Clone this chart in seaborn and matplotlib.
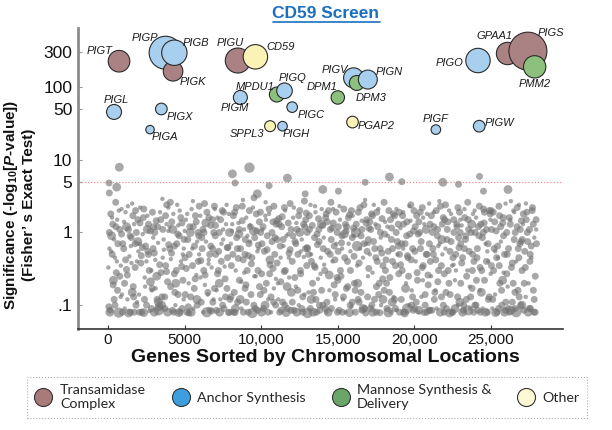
import matplotlib
matplotlib.use('Agg')
import matplotlib.pyplot as plt
from matplotlib.lines import Line2D
import seaborn as sns
import pandas as pd

# screen hits
genes = ['PIGP', 'PIGK', 'PIGB', 'PIGT', 'PIGU', 'CD59', 'PIGL', 'PIGX', 'PIGA',
         'PIGM', 'MPDU1', 'PIGQ', 'PIGC', 'SPPL3', 'PIGH', 'DPM1', 'PIGV', 'DPM3',
         'PIGN', 'PGAP2', 'PIGF', 'PIGW', 'PIGO', 'GPAA1', 'PIGS', 'PMM2']
positions = [3760, 4245, 4330, 718, 8470, 9620, 392, 3480, 2743,
             8640, 11020, 11520, 12020, 10580, 11390, 15000, 16030, 16240,
             16960, 15960, 21400, 24230, 24150, 26080, 27410, 27850]
significance = [297, 165, 297, 227, 232, 261, 45.5, 50, 26,
                72, 79, 89, 53, 29, 29, 72, 134, 114,
                127, 33, 26, 29, 232, 290, 312, 190]
insertions = [272, 96, 161, 117, 156, 149, 56, 34, 18,
              49, 56, 61, 28, 30, 23, 45, 100, 56,
              90, 34, 23, 34, 149, 125, 361, 125]
groups = ['Anchor', 'Transamidase', 'Anchor', 'Transamidase', 'Transamidase', 'Other',
          'Anchor', 'Anchor', 'Anchor', 'Anchor', 'Mannose', 'Anchor', 'Anchor', 'Other',
          'Anchor', 'Mannose', 'Anchor', 'Mannose', 'Anchor', 'Other', 'Anchor', 'Anchor',
          'Anchor', 'Transamidase', 'Transamidase', 'Mannose']

# genes just below / above the cutoff
top_bg = [(738, 7.9, 3), (8120, 6.4, 3), (9230, 7.8, 4), (65, 4.8, 2), (568, 4.2, 3),
          (85, 3.5, 2), (8295, 4.8, 2), (11710, 5.6, 3), (10516, 4.4, 2), (18370, 5.8, 3),
          (16790, 4.9, 2), (19180, 5.0, 2), (21860, 4.9, 3), (9750, 3.4, 3), (12870, 3.4, 2),
          (14020, 3.9, 3), (15040, 3.7, 2), (24250, 5.9, 2), (22880, 4.6, 2), (24510, 3.7, 2),
          (26110, 3.9, 3)]

# rest of the genome (position, significance, reads)
bg_points_a = [
    (120,0.08,3),(310,1.3,2),(450,0.45,1),(620,0.16,2),(880,2.1,1),(230,0.9,3),(540,0.28,2),(760,1.1,2),(90,0.6,1),(400,0.12,2),
    (700,0.079,4),(830,0.35,1),(180,1.8,2),(960,0.7,2),(350,0.22,3),(600,1.5,1),(50,0.095,2),(270,0.5,2),(910,0.14,1),(500,2.6,2),
    (1080,0.2,2),(1210,1.2,3),(1350,0.078,3),(1490,0.65,1),(1620,1.7,2),(1770,0.33,2),(1900,0.11,1),(1150,0.42,2),(1300,2.3,1),(1440,0.9,2),
    (1580,0.15,3),(1700,0.08,2),(1850,1.0,2),(1980,0.55,1),(1050,1.4,1),(1260,0.26,2),(1530,0.38,1),(1680,0.13,2),(1800,2.0,2),(1950,0.75,3),
    (2040,0.08,2),(2170,0.48,2),(2300,1.6,2),(2420,0.18,1),(2560,1.1,3),(2690,0.3,2),(2830,0.09,2),(2950,0.85,1),(2100,2.2,1),(2240,0.62,2),
    (2380,0.12,2),(2510,0.4,1),(2640,1.3,2),(2770,0.21,3),(2900,1.9,2),(2060,0.7,1),(2330,0.079,3),(2600,0.55,2),(2860,0.16,1),(2980,1.2,2),
    (3050,1.0,2),(3180,0.25,3),(3310,0.085,4),(3440,1.5,2),(3570,0.45,1),(3700,0.13,2),(3830,2.4,2),(3960,0.68,2),(3110,0.17,1),(3240,1.2,2),
    (3370,0.36,2),(3500,0.1,3),(3630,0.8,1),(3760,1.7,2),(3890,0.08,3),(3020,0.52,2),(3290,0.11,3),(3550,2.9,1),(3820,0.29,2),(3940,1.05,1),
    (4030,0.6,2),(4160,1.4,2),(4290,0.08,2),(4420,0.2,3),(4550,0.95,2),(4680,2.0,1),(4810,0.34,2),(4940,0.12,1),(4100,0.43,1),(4230,1.1,3),
    (4360,0.15,2),(4490,0.7,2),(4620,0.079,3),(4750,1.6,2),(4880,0.5,1),(4070,2.6,2),(4330,0.27,2),(4580,1.25,1),(4840,0.09,2),(4970,0.8,2),
    (5040,0.14,2),(5170,1.8,1),(5300,0.5,2),(5430,0.08,3),(5560,1.2,2),(5690,0.23,2),(5820,0.75,1),(5950,2.3,2),(5110,0.32,2),(5240,0.095,2),
    (5370,1.0,3),(5500,0.6,1),(5630,0.17,2),(5760,1.4,2),(5890,0.4,2),(5010,1.05,1),(5280,0.078,2),(5540,2.7,1),(5800,0.12,3),(5920,0.9,2),
    (6060,0.41,2),(6190,1.1,2),(6320,0.19,1),(6450,0.08,4),(6580,1.6,2),(6710,0.65,2),(6840,0.11,2),(6970,2.1,1),(6120,0.85,2),(6250,0.3,2),
    (6380,1.35,3),(6510,0.14,1),(6640,0.5,2),(6770,0.083,2),(6900,1.0,2),(6030,0.24,1),(6300,2.5,2),(6560,0.37,1),(6820,1.5,2),(6950,0.17,2),
    (7020,1.25,2),(7150,0.27,2),(7280,0.08,3),(7410,0.7,1),(7540,1.9,2),(7670,0.13,2),(7800,0.45,2),(7930,1.0,3),(7090,0.16,1),(7220,0.55,2),
    (7350,1.5,2),(7480,0.1,2),(7610,0.34,1),(7740,2.4,1),(7870,0.079,2),(7000,0.9,2),(7260,0.2,3),(7520,1.1,1),(7780,0.62,2),(7960,0.12,2),
    (8050,0.35,2),(8180,1.7,2),(8310,0.09,3),(8440,0.6,2),(8570,1.1,2),(8700,0.21,1),(8830,0.08,2),(8960,0.8,2),(8110,1.3,1),(8240,0.15,2),
    (8370,2.2,2),(8500,0.44,2),(8630,0.12,3),(8760,1.45,2),(8890,0.28,1),(8020,0.7,1),(8290,0.079,2),(8550,0.95,3),(8810,2.8,1),(8940,0.5,2),
    (9030,0.11,2),(9160,0.48,2),(9290,1.2,2),(9420,0.078,4),(9550,0.25,1),(9680,1.8,2),(9810,0.67,2),(9940,0.14,2),(9100,0.9,1),(9230,2.0,2),
    (9360,0.37,2),(9490,1.05,3),(9620,0.09,2),(9750,0.55,1),(9880,1.4,2),(9010,0.19,2),(9270,0.75,1),(9530,3.0,2),(9790,0.3,2),(9960,1.0,2),
    (10050,0.7,2),(10180,0.16,2),(10310,1.5,1),(10440,0.08,2),(10570,0.42,3),(10700,1.0,2),(10830,2.3,2),(10960,0.23,1),(10120,1.2,2),(10250,0.1,3),
    (10380,0.58,2),(10510,1.8,1),(10640,0.13,2),(10770,0.32,2),(10900,0.85,2),(10020,0.08,3),(10290,2.6,1),(10550,0.27,2),(10810,0.11,2),(10980,1.3,2),
    (11040,0.38,2),(11170,1.3,2),(11300,0.085,2),(11430,0.8,2),(11560,2.0,1),(11690,0.18,3),(11820,0.52,2),(11950,1.1,2),(11110,0.12,1),(11240,0.65,2),
    (11370,1.65,2),(11500,0.29,2),(11630,0.079,3),(11760,0.95,1),(11890,2.5,2),(11010,1.45,2),(11280,0.21,2),(11540,0.1,2),(11800,0.45,1),(11970,0.15,3),
    (12060,0.9,2),(12190,0.24,2),(12320,0.08,3),(12450,1.7,2),(12580,0.55,1),(12710,0.13,2),(12840,1.2,2),(12970,0.35,2),(12130,2.2,1),(12260,0.7,2),
    (12390,0.16,2),(12520,1.0,3),(12650,0.09,2),(12780,0.46,1),(12910,1.5,2),(12030,0.11,2),(12300,1.35,1),(12560,0.3,2),(12820,2.7,2),(12990,0.62,2),
    (13020,0.078,4),(13150,1.1,2),(13280,0.4,2),(13410,0.15,2),(13540,1.9,1),(13670,0.68,2),(13800,0.1,2),(13930,1.3,3),(13090,0.5,2),(13220,2.4,1),
    (13350,0.2,2),(13480,0.85,2),(13610,0.08,2),(13740,1.55,2),(13870,0.27,1),(13000,1.0,2),(13260,0.12,3),(13520,0.33,2),(13780,0.75,2),(13950,2.1,1),
    (14050,0.6,2),(14180,0.09,2),(14310,1.4,2),(14440,0.26,3),(14570,0.8,2),(14700,2.1,1),(14830,0.14,2),(14960,1.0,2),(14110,0.36,1),(14240,1.8,2),
    (14370,0.08,3),(14500,0.5,2),(14630,1.15,2),(14760,0.19,2),(14890,0.7,1),(14020,1.25,2),(14290,0.11,2),(14550,2.6,2),(14810,0.42,2),(14980,0.08,2),
    (15040,1.2,2),(15170,0.3,2),(15300,0.08,2),(15430,0.95,3),(15560,0.17,2),(15690,1.6,2),(15820,0.55,1),(15950,0.11,2),(15110,2.3,1),(15240,0.72,2),
    (15370,0.13,2),(15500,1.3,2),(15630,0.4,2),(15760,0.079,3),(15890,2.0,2),(15010,0.22,2),(15280,0.6,1),(15540,1.05,2),(15800,0.1,2),(15970,1.7,1),
    (16060,0.47,2),(16190,1.0,4),(16320,0.12,2),(16450,2.2,2),(16580,0.085,2),(16710,0.7,2),(16840,1.35,2),(16970,0.25,1),(16130,0.16,2),(16260,0.65,4),
    (16390,0.38,2),(16520,0.9,2),(16650,0.09,3),(16780,2.8,1),(16910,0.55,2),(16030,1.15,2),(16300,0.2,3),(16560,1.45,1),(16820,0.078,2),(16990,0.8,2),
    (17020,0.32,2),(17150,1.1,2),(17280,0.08,3),(17410,0.6,2),(17540,1.9,2),(17670,0.14,2),(17800,0.85,1),(17930,0.23,2),(17090,1.4,2),(17220,0.1,2),
    (17350,2.4,1),(17480,0.45,2),(17610,1.2,2),(17740,0.079,2),(17870,0.52,2),(17000,0.7,1),(17260,1.7,2),(17520,0.18,2),(17780,1.0,2),(17950,0.12,3),
    (18050,0.95,2),(18180,0.2,2),(18310,0.08,4),(18440,1.5,2),(18570,0.4,2),(18700,0.12,2),(18830,2.1,1),(18960,0.65,2),(18110,0.3,2),(18240,1.2,1),
    (18370,0.15,2),(18500,0.8,2),(18630,1.8,2),(18760,0.09,2),(18890,0.5,1),(18020,2.6,2),(18290,0.55,2),(18550,0.11,3),(18810,1.0,2),(18980,0.27,2),
    (19030,0.08,2),(19160,0.7,2),(19290,1.3,2),(19420,0.17,3),(19550,0.48,2),(19680,2.3,1),(19810,0.1,2),(19940,1.05,2),(19100,0.36,2),(19230,1.7,2),
    (19360,0.078,3),(19490,0.9,2),(19620,0.25,2),(19750,1.45,1),(19880,0.13,2),(19010,1.9,2),(19270,0.6,1),(19530,0.09,4),(19790,0.42,2),(19970,2.0,2),
    (20050,1.2,2),(20180,0.28,2),(20310,0.085,3),(20440,0.75,2),(20570,1.6,1),(20700,0.14,2),(20830,0.5,2),(20960,2.5,1),(20120,0.11,2),(20250,0.95,2),
    (20380,1.9,2),(20510,0.33,2),(20640,0.079,2),(20770,1.1,3),(20900,0.19,2),(20030,0.55,2),(20290,1.4,2),(20550,0.22,1),(20810,0.08,2),(20980,0.7,2),
    (21040,0.4,2),(21170,1.0,2),(21300,0.12,2),(21430,2.0,2),(21560,0.65,1),(21690,0.08,3),(21820,1.3,2),(21950,0.27,2),(21110,1.7,2),(21240,0.5,2),
    (21370,0.16,1),(21500,0.9,2),(21630,2.7,1),(21760,0.35,2),(21890,0.1,2),(21010,0.085,2),(21270,1.2,2),(21530,0.21,2),(21790,0.8,3),(21970,1.5,2),
    (22060,0.15,2),(22190,1.4,2),(22320,0.55,2),(22450,0.08,2),(22580,1.0,2),(22710,0.3,1),(22840,2.2,2),(22970,0.11,3),(22130,0.8,2),(22260,0.2,2),
    (22390,1.8,1),(22520,0.45,2),(22650,0.09,3),(22780,1.2,2),(22910,0.62,2),(22030,2.4,2),(22300,0.078,3),(22560,0.36,1),(22820,0.13,2),(22990,1.0,2),
    (23020,0.7,2),(23150,0.08,3),(23280,1.6,2),(23410,0.25,2),(23540,1.1,2),(23670,0.13,2),(23800,0.5,2),(23930,2.0,1),(23090,0.38,2),(23220,0.1,2),
    (23350,0.9,2),(23480,2.6,2),(23610,0.18,1),(23740,1.3,3),(23870,0.08,2),(23000,1.5,1),(23260,0.6,2),(23520,0.085,4),(23780,0.3,2),(23960,1.0,2),
    (24050,0.22,2),(24180,1.2,2),(24310,0.08,2),(24440,0.85,2),(24570,1.9,2),(24700,0.4,2),(24830,0.12,2),(24960,1.5,1),(24110,0.6,2),(24240,2.3,2),
    (24370,0.15,3),(24500,1.0,2),(24630,0.08,3),(24760,0.55,1),(24890,2.0,2),(24020,0.1,2),(24290,0.33,2),(24550,1.35,2),(24810,0.7,2),(24980,0.27,1),
    (25040,1.1,2),(25170,0.3,2),(25300,0.079,3),(25430,0.65,2),(25560,1.7,2),(25690,0.16,2),(25820,0.9,2),(25950,2.5,1),(25110,0.12,2),(25240,1.4,2),
    (25370,0.45,2),(25500,0.09,2),(25630,1.2,2),(25760,0.22,3),(25890,0.08,3),(25010,2.0,2),(25280,0.55,1),(25540,0.35,2),(25800,1.6,2),(25970,0.11,2),
    (26060,0.5,2),(26190,1.6,2),(26320,0.085,3),(26450,0.2,2),(26580,1.0,2),(26710,2.2,2),(26840,0.13,2),(26970,0.75,2),(26130,0.09,2),(26260,1.3,2),
    (26390,0.38,2),(26520,1.9,1),(26650,0.08,4),(26780,0.6,2),(26910,1.1,2),(26030,0.27,2),(26300,2.7,1),(26560,0.15,2),(26820,0.45,2),(26990,1.45,2),
    (27040,0.8,2),(27170,0.2,2),(27300,1.5,2),(27430,0.08,3),(27560,0.5,2),(27690,2.0,2),(27820,0.12,2),(27950,1.1,1),(27110,1.8,2),(27240,0.33,2),
    (27370,1.0,2),(27500,0.09,2),(27630,0.65,2),(27760,1.3,2),(27890,0.25,2),(27010,0.1,3),(27280,2.5,1),(27540,0.4,2),(27800,0.08,2),(27970,0.7,2),
]

bg_points_b = [
    (25,0.33,1),(85,1.0,2),(145,0.085,2),(205,0.55,1),(265,1.6,1),(335,0.19,2),(395,0.8,1),(455,0.1,2),(515,1.2,2),(575,0.4,1),(645,0.7,2),(705,2.0,1),(765,0.25,2),(825,0.13,1),(885,0.95,2),(945,0.08,2),
    (1025,0.6,2),(1085,0.09,1),(1145,1.9,1),(1205,0.31,2),(1265,0.12,1),(1335,1.1,2),(1395,0.47,1),(1455,0.08,2),(1515,0.85,2),(1575,2.5,1),(1645,0.18,2),(1705,1.3,1),(1765,0.7,2),(1825,0.1,2),(1885,0.4,1),(1945,1.5,2),
    (2025,0.14,1),(2085,1.35,2),(2145,0.38,2),(2205,0.08,2),(2265,0.95,1),(2335,2.1,2),(2395,0.24,1),(2455,0.65,2),(2515,0.1,2),(2575,1.7,1),(2645,0.5,2),(2705,0.083,1),(2765,1.05,2),(2825,0.3,1),(2885,0.17,2),(2945,0.6,2),
    (3025,0.08,3),(3085,0.42,1),(3145,1.45,2),(3205,0.12,2),(3265,0.72,1),(3335,0.095,3),(3395,1.9,1),(3455,0.28,2),(3515,0.13,2),(3575,1.1,2),(3645,0.58,1),(3705,0.09,2),(3765,0.35,2),(3825,1.3,1),(3885,0.21,2),(3945,2.2,1),
    (4025,1.2,1),(4085,0.18,2),(4145,0.52,2),(4205,0.085,2),(4265,1.8,1),(4335,0.65,2),(4395,0.1,1),(4455,0.3,2),(4515,2.4,1),(4575,0.14,2),(4645,0.9,2),(4705,0.08,2),(4765,0.4,1),(4825,1.35,2),(4885,0.22,2),(4945,0.6,1),
    (5025,0.45,2),(5085,1.5,1),(5145,0.08,2),(5205,0.8,2),(5265,0.2,1),(5335,1.2,2),(5395,0.13,2),(5455,2.1,1),(5515,0.35,2),(5575,0.09,1),(5645,0.65,2),(5705,1.7,2),(5765,0.26,1),(5825,0.1,2),(5885,1.0,2),(5945,0.5,1),
    (6025,1.7,1),(6085,0.11,2),(6145,0.6,2),(6205,0.08,1),(6265,1.0,2),(6335,0.26,2),(6395,0.75,1),(6455,1.9,2),(6515,0.15,2),(6575,0.42,1),(6645,0.085,2),(6705,1.25,2),(6765,0.33,1),(6825,0.6,2),(6885,0.12,1),(6945,2.3,2),
    (7025,0.5,2),(7085,0.085,2),(7145,1.6,1),(7205,0.3,2),(7265,1.0,2),(7335,0.12,1),(7395,0.4,2),(7455,2.0,2),(7515,0.8,1),(7575,0.09,2),(7645,0.23,2),(7705,1.3,1),(7765,0.17,2),(7825,0.62,2),(7885,1.8,1),(7945,0.08,2),
    (8025,0.13,2),(8085,1.05,1),(8145,0.5,2),(8205,0.08,2),(8265,1.9,2),(8335,0.3,1),(8395,0.85,2),(8455,0.11,2),(8515,1.35,1),(8575,0.22,2),(8645,0.6,2),(8705,0.09,1),(8765,2.3,2),(8825,0.42,2),(8885,1.1,1),(8945,0.17,2),
    (9025,1.6,1),(9085,0.3,2),(9145,0.08,2),(9205,0.7,2),(9265,1.25,1),(9335,0.14,2),(9395,0.45,2),(9455,2.2,1),(9515,0.1,2),(9575,0.85,2),(9645,0.25,1),(9705,1.05,2),(9765,0.085,2),(9825,0.6,1),(9885,0.18,2),(9945,1.9,2),
    (10025,0.27,2),(10085,1.1,1),(10145,0.09,2),(10205,0.55,2),(10265,1.7,1),(10335,0.2,2),(10395,0.9,2),(10455,0.12,1),(10515,2.1,2),(10575,0.36,2),(10645,0.08,1),(10705,0.75,2),(10765,1.4,2),(10825,0.17,1),(10885,0.5,2),(10945,0.1,2),
    (11025,0.8,2),(11085,0.2,1),(11145,1.55,2),(11205,0.08,2),(11265,0.45,1),(11335,1.2,2),(11395,0.11,2),(11455,0.65,1),(11515,2.2,2),(11575,0.3,2),(11645,0.9,1),(11705,0.09,2),(11765,1.35,2),(11825,0.24,1),(11885,0.58,2),(11945,0.085,2),
    (12025,0.4,2),(12085,1.6,1),(12145,0.085,2),(12205,0.75,2),(12265,0.18,1),(12335,1.1,2),(12395,0.5,2),(12455,0.1,1),(12515,2.0,2),(12575,0.27,2),(12645,0.8,1),(12705,0.08,2),(12765,1.3,2),(12825,0.14,1),(12885,0.6,2),(12945,1.85,2),
    (13025,0.6,2),(13085,0.15,1),(13145,1.7,2),(13205,0.09,2),(13265,0.5,1),(13335,1.25,2),(13395,0.08,3),(13455,0.35,2),(13515,2.3,1),(13575,0.12,2),(13645,0.95,2),(13705,0.23,1),(13765,1.1,2),(13825,0.085,2),(13885,0.45,1),(13945,0.16,2),
    (14025,0.1,2),(14085,0.85,1),(14145,0.3,2),(14205,1.6,2),(14265,0.08,1),(14335,0.55,2),(14395,2.0,2),(14455,0.16,1),(14515,1.1,2),(14575,0.09,2),(14645,0.4,1),(14705,1.35,2),(14765,0.65,2),(14825,0.12,1),(14885,1.9,2),(14945,0.24,2),
    (15025,0.55,2),(15085,0.085,2),(15145,1.5,1),(15205,0.25,2),(15265,0.9,2),(15335,0.12,1),(15395,2.1,2),(15455,0.45,2),(15515,0.08,1),(15575,1.2,2),(15645,0.18,2),(15705,0.7,1),(15765,1.75,2),(15825,0.3,2),(15885,0.095,1),(15945,0.85,2),
    (16025,0.9,1),(16085,0.2,2),(16145,0.08,2),(16205,1.3,2),(16265,0.35,1),(16335,1.9,2),(16395,0.11,2),(16455,0.6,1),(16515,0.15,2),(16575,1.1,2),(16645,0.45,1),(16705,2.4,2),(16765,0.09,2),(16825,0.7,1),(16885,1.5,2),(16945,0.13,2),
    (17025,1.15,2),(17085,0.5,1),(17145,0.09,2),(17205,1.8,2),(17265,0.28,1),(17335,0.75,2),(17395,0.12,2),(17455,1.3,1),(17515,0.08,2),(17575,0.4,2),(17645,2.1,1),(17705,0.2,2),(17765,0.6,2),(17825,0.1,1),(17885,1.55,2),(17945,0.35,2),
    (18025,0.16,2),(18085,1.4,1),(18145,0.42,2),(18205,0.09,2),(18265,0.9,1),(18335,2.0,2),(18395,0.24,2),(18455,0.08,1),(18515,1.15,2),(18575,0.6,2),(18645,0.13,1),(18705,1.7,2),(18765,0.35,2),(18825,0.085,1),(18885,0.75,2),(18945,1.3,2),
    (19025,0.5,2),(19085,1.15,1),(19145,0.12,2),(19205,0.3,2),(19265,1.9,1),(19335,0.08,2),(19395,0.7,2),(19455,0.2,1),(19515,1.4,2),(19575,0.45,2),(19645,0.1,1),(19705,0.95,2),(19765,2.4,2),(19825,0.16,1),(19885,0.6,2),(19945,0.085,2),
    (20025,0.09,2),(20085,0.4,1),(20145,1.7,2),(20205,0.22,2),(20265,0.08,1),(20335,1.0,2),(20395,0.6,2),(20455,0.13,1),(20515,2.2,2),(20575,0.35,2),(20645,1.3,1),(20705,0.1,2),(20765,0.5,2),(20825,1.8,1),(20885,0.26,2),(20945,0.085,2),
    (21025,1.3,2),(21085,0.25,1),(21145,0.085,2),(21205,0.6,2),(21265,1.9,1),(21335,0.15,2),(21395,0.42,2),(21455,0.09,1),(21515,1.1,2),(21575,0.3,2),(21645,0.7,1),(21705,2.3,2),(21765,0.13,2),(21825,0.5,1),(21885,1.6,2),(21945,0.08,2),
    (22025,0.6,1),(22085,0.09,2),(22145,1.1,2),(22205,0.3,2),(22265,2.0,1),(22335,0.14,2),(22395,0.75,2),(22455,0.35,1),(22515,0.08,2),(22575,1.5,2),(22645,0.22,1),(22705,0.5,2),(22765,1.3,2),(22825,0.1,1),(22885,0.85,2),(22945,1.9,2),
    (23025,0.2,2),(23085,1.25,1),(23145,0.45,2),(23205,0.085,2),(23265,2.1,1),(23335,0.8,2),(23395,0.12,2),(23455,0.3,1),(23515,1.5,2),(23575,0.55,2),(23645,0.09,1),(23705,1.0,2),(23765,0.17,2),(23825,1.8,1),(23885,0.4,2),(23945,0.1,2),
    (24025,1.6,1),(24085,0.45,2),(24145,0.085,2),(24205,0.9,2),(24265,0.16,1),(24335,1.3,2),(24395,0.3,2),(24455,0.09,1),(24515,2.1,2),(24575,0.22,2),(24645,0.7,1),(24705,1.1,2),(24765,0.08,2),(24825,0.4,1),(24885,0.13,2),(24945,1.8,2),
    (25025,0.35,2),(25085,0.09,1),(25145,1.9,2),(25205,0.6,2),(25265,0.14,1),(25335,1.05,2),(25395,0.08,2),(25455,0.45,1),(25515,2.3,2),(25575,0.2,2),(25645,0.75,1),(25705,0.1,2),(25765,1.35,2),(25825,0.28,1),(25885,0.5,2),(25945,0.085,2),
    (26025,1.0,2),(26085,0.18,1),(26145,0.6,2),(26205,0.08,2),(26265,1.5,1),(26335,0.33,2),(26395,0.11,2),(26455,2.0,1),(26515,0.8,2),(26575,0.09,2),(26645,0.4,1),(26705,1.2,2),(26765,0.16,2),(26825,2.4,1),(26885,0.7,2),(26945,0.1,2),
    (27025,0.3,2),(27085,1.3,1),(27145,0.085,2),(27205,0.55,2),(27265,0.13,1),(27335,1.9,2),(27395,0.75,2),(27455,0.2,1),(27515,1.1,2),(27575,0.09,2),(27645,0.45,1),(27705,2.2,2),(27765,0.16,2),(27825,0.85,1),(27885,0.08,2),(27945,1.5,2),
]

group_order = ['Transamidase', 'Anchor', 'Mannose', 'Other']
legend_labels = ['Transamidase\nComplex', 'Anchor Synthesis', 'Mannose Synthesis &\nDelivery', 'Other']
fill_colors = {'Transamidase': '#ab8283', 'Anchor': '#a9cfee', 'Mannose': '#8dc07c', 'Other': '#faf3b6'}
legend_colors = ['#a87a7a', '#3d9fe0', '#6aa66a', '#fdf8d6']

# label offsets in pixels (dx, dy) from bubble centre
label_offsets = {
    'PIGT': (-19, 10), 'PIGP': (-21, 15), 'PIGB': (22, 10), 'PIGK': (20, -11),
    'PIGU': (-8, 18), 'CD59': (25, 10), 'PIGL': (2, 12), 'PIGX': (19, -8),
    'PIGA': (15, -7), 'PIGM': (-6, -11), 'MPDU1': (-22, 8), 'PIGQ': (8, 13),
    'PIGC': (19, -8), 'SPPL3': (-23, -8), 'PIGH': (14, -8), 'PIGV': (-19, 8),
    'PIGN': (21, 8), 'DPM1': (-16, 10), 'DPM3': (14, -15), 'PGAP2': (24, -4),
    'PIGF': (0, 11), 'PIGW': (20, 3), 'PIGO': (-28, -2), 'GPAA1': (-13, 17),
    'PIGS': (23, 18), 'PMM2': (0, -17),
}

sns.set_theme(style='white')
plt.rcParams['font.family'] = ['Liberation Sans', 'DejaVu Sans']
plt.rcParams['mathtext.fontset'] = 'custom'
plt.rcParams['mathtext.rm'] = 'Liberation Sans:bold'
plt.rcParams['mathtext.it'] = 'Liberation Sans:bold:italic'

hits = pd.DataFrame({'gene': genes, 'pos': positions, 'sig': significance,
                     'ins': insertions, 'group': groups})
bg = pd.DataFrame(top_bg + bg_points_a + bg_points_b, columns=['pos', 'sig', 'reads'])

W, H = 612, 430
fig = plt.figure(figsize=(W / 100, H / 100), dpi=100)
ax = fig.add_axes([78 / W, 1 - 329 / H, 485 / W, 301 / H])

sns.scatterplot(data=bg, x='pos', y='sig', size='reads', sizes=(10, 55), size_norm=(1, 4),
                color='#737373', alpha=0.62, linewidth=0, legend=False, ax=ax, zorder=2)
ax.axhline(5, color='#f28c8c', lw=0.9, ls=(0, (1, 1.5)), zorder=1)
sns.scatterplot(data=hits, x='pos', y='sig', hue='group', hue_order=group_order,
                palette=fill_colors, size='ins', sizes=(0, 829), size_norm=(0, 400),
                edgecolor='#2a2a2a', linewidth=0.8, alpha=1, legend=False, ax=ax, zorder=3)

for g, x, y in zip(genes, positions, significance):
    ax.annotate(g, (x, y), xytext=label_offsets[g], textcoords='offset pixels',
                ha='center', va='center', fontsize=8, style='italic', color='#1a1a1a', zorder=4)

ax.set_yscale('log')
ax.set_ylim(0.047, 650)
ax.set_xlim(-1960, 29700)
ax.set_yticks([0.1, 1, 5, 10, 50, 100, 300])
ax.set_yticklabels(['.1', '1', '5', '10', '50', '100', '300'])
ax.yaxis.set_minor_locator(matplotlib.ticker.NullLocator())
ax.set_xticks([0, 5000, 10000, 15000, 20000, 25000])
ax.set_xticklabels(['0', '5000', '10,000', '15,000', '20,000', '25,000'])
ax.tick_params(axis='y', direction='in', length=3, width=0.8, color='#999999', pad=4,
               labelsize=12.5, labelcolor='#111111', left=True)
ax.tick_params(axis='x', direction='in', length=3, width=0.8, color='#333333', pad=3,
               labelsize=11, labelcolor='#111111', bottom=True)
ax.set_xlabel('')
ax.set_ylabel('')
for side in ['top', 'right']:
    ax.spines[side].set_visible(False)
ax.spines['left'].set_color('#8c8c8c')
ax.spines['left'].set_linewidth(2)
ax.spines['bottom'].set_color('#333333')
ax.spines['bottom'].set_linewidth(1.2)

fig.text(325 / W, 1 - 358 / H, 'Genes Sorted by Chromosomal Locations', ha='center', va='center',
         fontsize=14, fontweight='bold', color='#111111')
fig.text(19 / W, 1 - 205 / H, 'Significance (-log$_{\\mathrm{10}}$[$\\mathit{P}$-value])\n(Fisher\u2019 s Exact Test)',
         rotation=90, ha='center', va='center', multialignment='center', fontsize=11,
         fontweight='bold', color='#111111', linespacing=1.1)

title_color = '#1b6fc0'
t = fig.text(326 / W, 1 - 13 / H, 'CD59 Screen', ha='center', va='center', fontsize=12.5,
             fontweight='bold', color=title_color)
fig.canvas.draw()
bb = t.get_window_extent()
fig.add_artist(Line2D([bb.x0 / W, bb.x1 / W], [(bb.y0 - 1.5) / H] * 2, color=title_color,
                      lw=1.2, transform=fig.transFigure))

handles = [Line2D([], [], marker='o', ls='', markersize=13, markerfacecolor=c,
                  markeredgecolor='#333333', markeredgewidth=0.8) for c in legend_colors]
leg = fig.legend(handles, legend_labels, loc='center', ncol=4, mode='expand',
                 bbox_to_anchor=(27 / W, 1 - 422 / H, 560 / W, 49 / H), frameon=True,
                 fancybox=False, prop={'family': 'Lato', 'size': 10.3}, handletextpad=0.5,
                 borderaxespad=0, handlelength=1.3, borderpad=0.5)
frame = leg.get_frame()
frame.set_linestyle(':')
frame.set_edgecolor('#999999')
frame.set_linewidth(0.8)

fig.savefig('out.png', dpi=100)
